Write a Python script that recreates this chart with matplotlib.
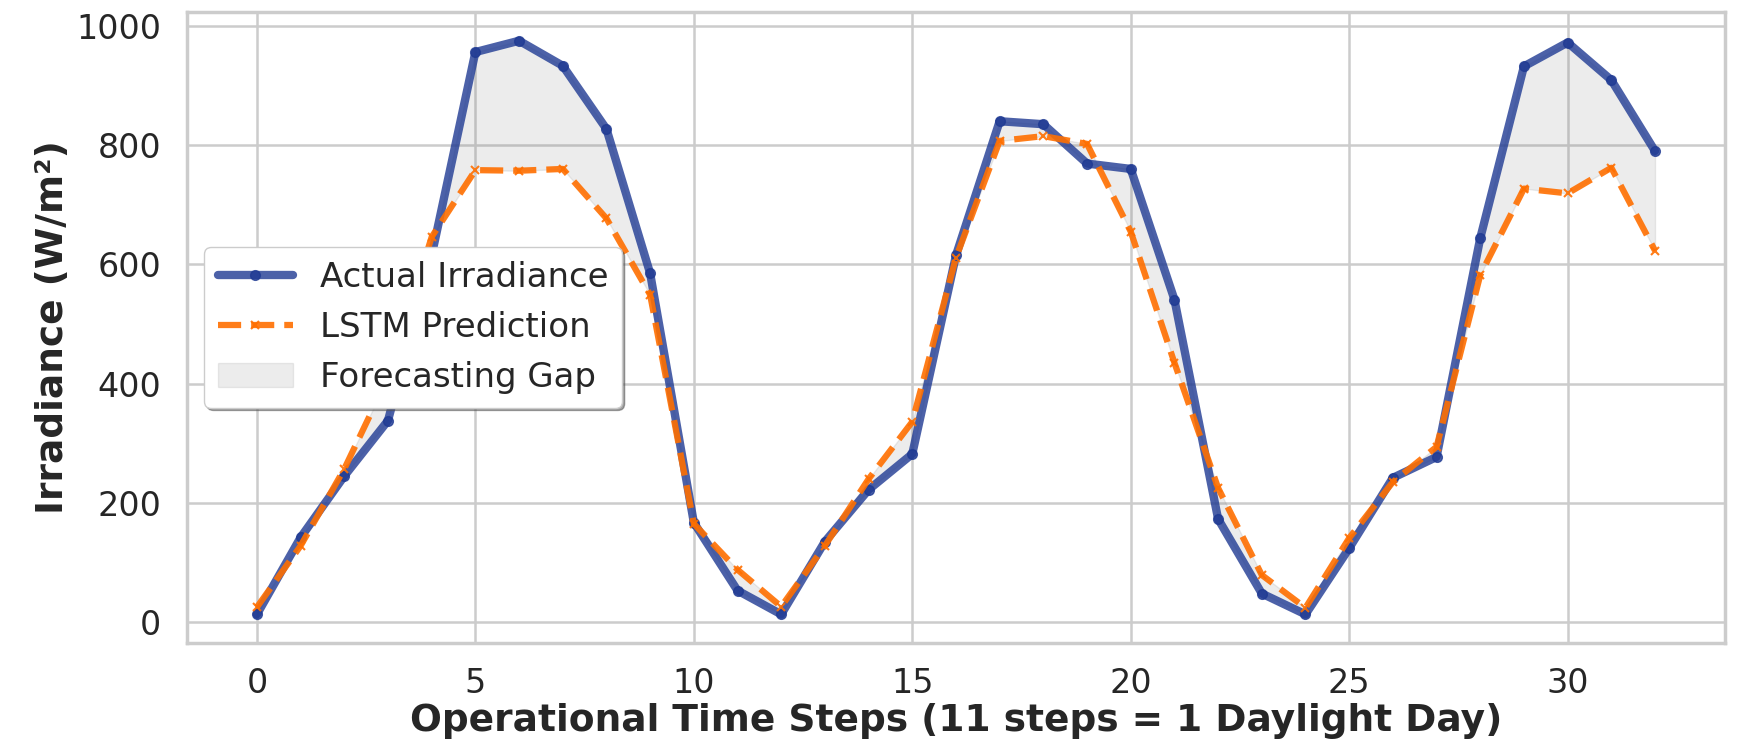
import matplotlib
matplotlib.use("Agg")
from matplotlib import pyplot as plt
import seaborn as sns

steps = list(range(33))
actual = [13, 142, 245, 338, 615, 956, 975, 933, 827, 585,
          167, 53, 13, 135, 222, 282, 615, 840, 835, 769,
          760, 541, 173, 48, 13, 124, 242, 277, 644, 932,
          972, 909, 790]
predicted = [25, 128, 257, 410, 646, 758, 757, 760, 677, 549,
             165, 88, 26, 128, 240, 336, 611, 807, 815, 802,
             655, 435, 225, 79, 24, 141, 235, 294, 582, 727,
             719, 762, 623]

sns.set_style("whitegrid")
plt.rcParams['font.family'] = ['DejaVu Sans']

fig, ax = plt.subplots(figsize=(17.56, 7.53), dpi=100)
fig.subplots_adjust(left=0.1065, right=0.9823, top=0.984, bottom=0.146)

ax.plot(steps, actual, color='#1f3a93', alpha=0.8, linewidth=6,
        marker='o', markersize=7, label='Actual Irradiance')
ax.plot(steps, predicted, color='#ff6f00', alpha=0.9, linewidth=4.5,
        linestyle='--', marker='x', markersize=6, markeredgewidth=1.5,
        label='LSTM Prediction')
ax.fill_between(steps, actual, predicted, color='gray', alpha=0.15,
                label='Forecasting Gap')

ax.set_xlabel('Operational Time Steps (11 steps = 1 Daylight Day)',
              fontsize=27, fontweight='bold', labelpad=2)
ax.set_ylabel('Irradiance (W/m²)', fontsize=27, fontweight='bold', labelpad=4)
ax.tick_params(axis='x', labelsize=24, pad=14)
ax.tick_params(axis='y', labelsize=24, pad=15)
ax.set_yticks([0, 200, 400, 600, 800, 1000])

for s in ax.spines.values():
    s.set_color('#cccccc')
    s.set_linewidth(2.5)
ax.grid(color='#cccccc', linewidth=1.8)

ax.legend(loc='center left', fontsize=24.5, shadow=True, framealpha=1,
          handlelength=2.2)

plt.savefig('out.png')
